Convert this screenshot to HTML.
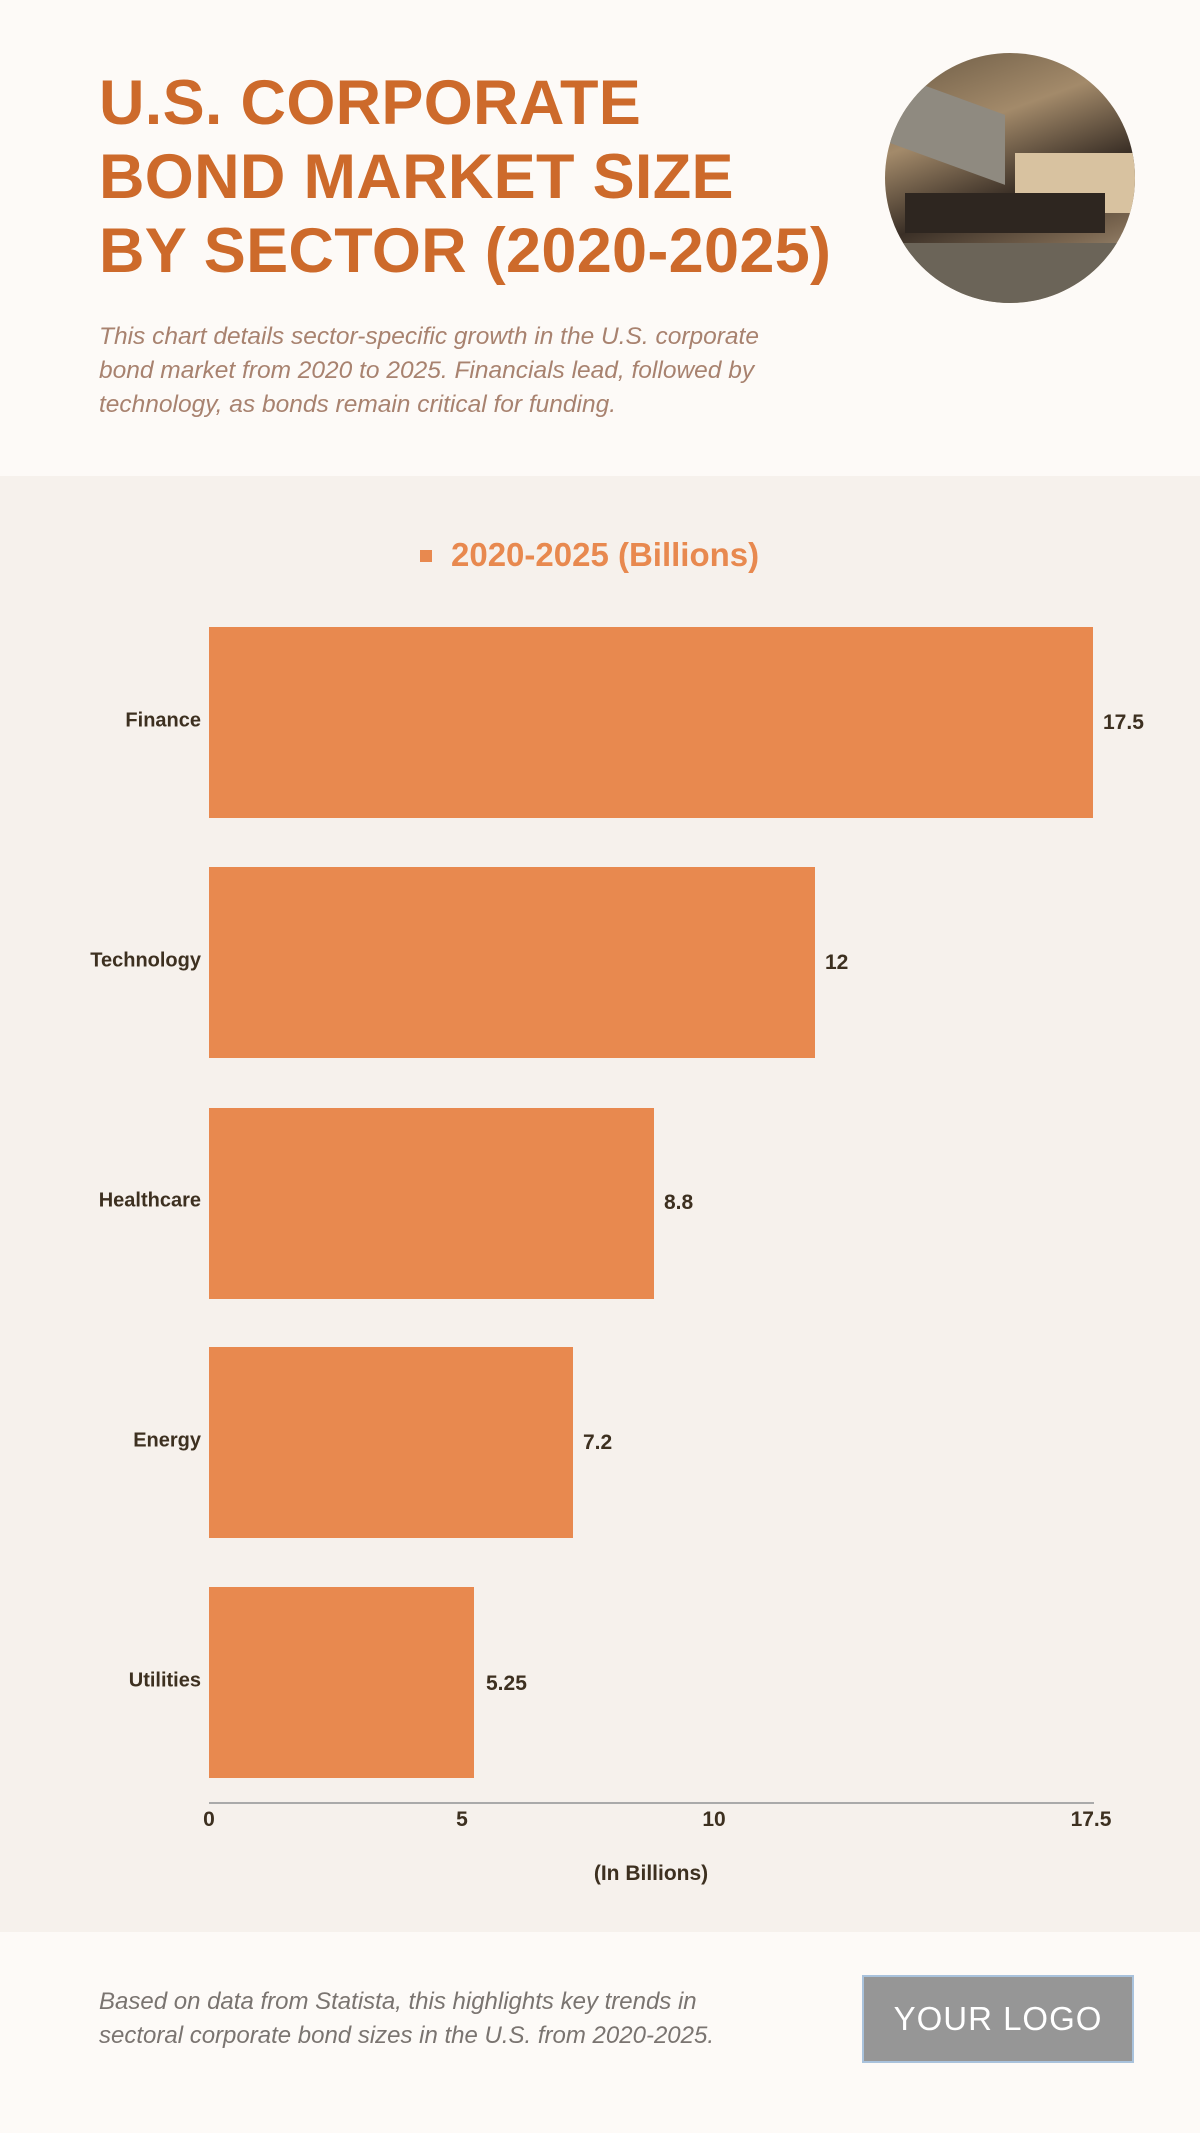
<!DOCTYPE html>
<html><head><meta charset="utf-8"><style>
*{margin:0;padding:0;box-sizing:border-box}
body{width:1200px;height:2133px;background:#fdfaf7;position:relative;overflow:hidden;font-family:"Liberation Sans",sans-serif}
.t{position:absolute;left:99px;font-weight:bold;color:#cd6a2b;font-size:63px;line-height:74px;top:66px;letter-spacing:0.3px}
.sub{position:absolute;left:99px;top:320px;font-size:24.5px;line-height:34px;font-style:italic;color:#a8826f;white-space:nowrap}
.circ{position:absolute;left:885px;top:53px;width:250px;height:250px;border-radius:50%;overflow:hidden;background:linear-gradient(160deg,#6b5a44 0%,#a38a6a 30%,#3a2f26 55%,#7a6650 75%,#c9b79c 100%)}
.chartbg{position:absolute;left:0;top:476px;width:1200px;height:1456px;background:#f6f1ec}
.bar{position:absolute;left:209px;height:191px;background:#e8894f}
.cat{position:absolute;right:999px;font-size:20px;font-weight:bold;color:#3d3020;transform:translateY(-50%)}
.val{position:absolute;font-size:21px;font-weight:bold;color:#3d3020;transform:translateY(-50%)}
.tick{position:absolute;top:1808px;font-size:21px;font-weight:bold;color:#3d3020;transform:translateX(-50%)}
.foot{position:absolute;left:99px;top:1985px;font-size:24px;line-height:34px;font-style:italic;color:#7a7470}
.logo{position:absolute;left:862px;top:1975px;width:272px;height:88px;background:#969696;border:2px solid #a9c2dc;color:#fff;font-size:33px;display:flex;align-items:center;justify-content:center;letter-spacing:1px}
</style></head><body>
<div class="t">U.S. CORPORATE<br>BOND MARKET SIZE<br>BY SECTOR (2020-2025)</div>
<div class="circ">
<div style="position:absolute;left:0;top:40px;width:120px;height:70px;background:#8f8a80;transform:skewY(20deg)"></div>
<div style="position:absolute;left:130px;top:100px;width:120px;height:60px;background:#d8c2a0"></div>
<div style="position:absolute;left:20px;top:140px;width:200px;height:40px;background:#2e2620"></div>
<div style="position:absolute;left:0;top:190px;width:250px;height:60px;background:#6b6458"></div>
</div>
<div class="sub">This chart details sector-specific growth in the U.S. corporate<br>bond market from 2020 to 2025. Financials lead, followed by<br>technology, as bonds remain critical for funding.</div>
<div class="chartbg"></div>
<div style="position:absolute;left:420px;top:550px;width:12px;height:12px;background:#e8894f"></div>
<div style="position:absolute;left:451px;top:536px;font-size:33px;font-weight:bold;color:#e8894f">2020-2025 (Billions)</div>

<div class="bar" style="top:627px;width:884px"></div>
<div class="bar" style="top:867px;width:606px"></div>
<div class="bar" style="top:1108px;width:445px"></div>
<div class="bar" style="top:1347px;width:364px"></div>
<div class="bar" style="top:1587px;width:265px"></div>

<div class="cat" style="top:721px">Finance</div>
<div class="cat" style="top:961px">Technology</div>
<div class="cat" style="top:1201px">Healthcare</div>
<div class="cat" style="top:1441px">Energy</div>
<div class="cat" style="top:1681px">Utilities</div>

<div class="val" style="left:1103px;top:723px">17.5</div>
<div class="val" style="left:825px;top:963px">12</div>
<div class="val" style="left:664px;top:1203px">8.8</div>
<div class="val" style="left:583px;top:1443px">7.2</div>
<div class="val" style="left:486px;top:1684px">5.25</div>

<div style="position:absolute;left:209px;top:1802px;width:885px;height:2px;background:#aaa"></div>
<div class="tick" style="left:209px">0</div>
<div class="tick" style="left:462px">5</div>
<div class="tick" style="left:714px">10</div>
<div class="tick" style="left:1091px">17.5</div>
<div style="position:absolute;left:651px;top:1862px;width:0;white-space:nowrap;font-size:21px;font-weight:bold;color:#3d3020"><span style="display:inline-block;transform:translateX(-50%)">(In Billions)</span></div>

<div class="foot">Based on data from Statista, this highlights key trends in<br>sectoral corporate bond sizes in the U.S. from 2020-2025.</div>
<div class="logo">YOUR LOGO</div>
</body></html>
